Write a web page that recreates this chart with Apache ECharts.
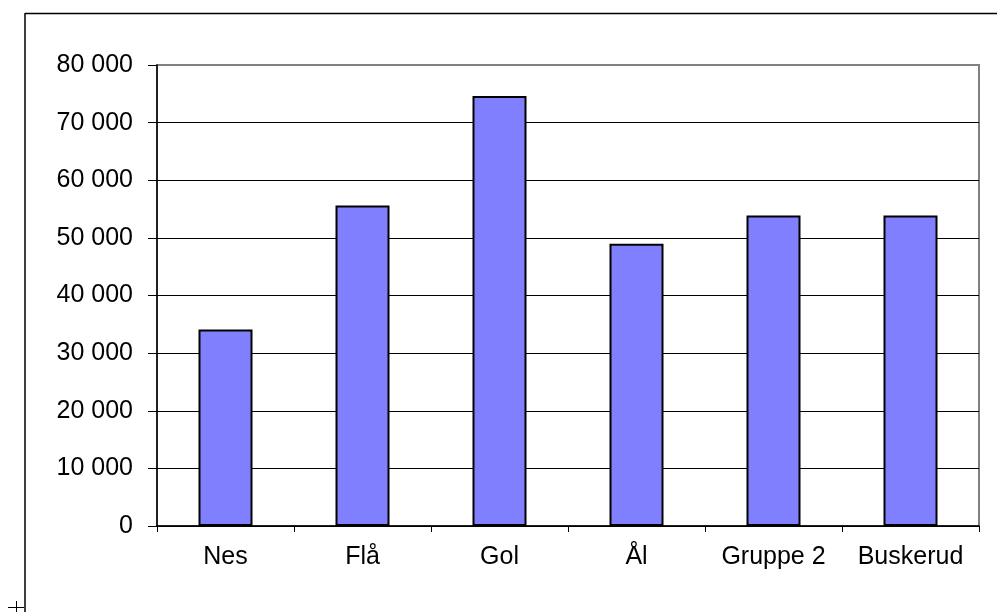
<!DOCTYPE html>
<html>
<head>
<meta charset="utf-8">
<script src="https://cdn.jsdelivr.net/npm/echarts@6/dist/echarts.min.js"></script>
<style>
html,body{margin:0;padding:0;background:#fff;}
#chart{width:997px;height:612px;}
</style>
</head>
<body>
<div id="chart"></div>
<script>
const categories = ['Nes', 'Flå', 'Gol', 'Ål', 'Gruppe 2', 'Buskerud'];
const values = [34100, 55600, 74600, 49000, 53900, 53900];
const yTicks = [0, 10000, 20000, 30000, 40000, 50000, 60000, 70000, 80000];

const fmt = v => {
  const s = String(Math.round(v));
  return s.replace(/\B(?=(\d{3})+(?!\d))/g, ' ');
};

const chart = echarts.init(document.getElementById('chart'), null, {renderer: 'canvas'});
const FONT = '"Liberation Sans", Arial, sans-serif';
chart.setOption({
  backgroundColor: '#ffffff',
  animation: false,
  grid: {
    left: 157, right: 18, top: 65, bottom: 86,
    show: true, borderColor: '#808080', borderWidth: 2, backgroundColor: 'transparent'
  },
  xAxis: {
    type: 'category',
    data: categories,
    boundaryGap: true,
    axisLine: {show: true, lineStyle: {color: '#000', width: 1.5}},
    axisTick: {show: true, interval: 0, alignWithLabel: false, length: 6, lineStyle: {color: '#000', width: 1}},
    axisLabel: {show: true, interval: 0, hideOverlap: false, color: '#000', fontSize: 25, fontFamily: FONT, margin: 19}
  },
  yAxis: {
    type: 'value',
    min: yTicks[0],
    max: yTicks[yTicks.length - 1],
    interval: yTicks[1] - yTicks[0],
    axisLine: {show: true, lineStyle: {color: '#000', width: 1.5}},
    axisTick: {show: true, length: 9, lineStyle: {color: '#000', width: 1}},
    axisLabel: {color: '#000', fontSize: 25, fontFamily: FONT, margin: 24, formatter: fmt},
    splitLine: {show: true, lineStyle: {color: yTicks.map((t, i) => i === yTicks.length - 1 ? '#808080' : '#000'), width: 1}}
  },
  series: [{
    type: 'bar',
    data: values,
    barWidth: 54,
    itemStyle: {color: '#8080FF', borderColor: '#000', borderWidth: 2}
  }],
  graphic: [
    {type: 'line', shape: {x1: 25, y1: 13.5, x2: 997, y2: 13.5}, style: {stroke: '#000', lineWidth: 1.5}},
    {type: 'line', shape: {x1: 25, y1: 13, x2: 25, y2: 612}, style: {stroke: '#000', lineWidth: 1.5}},
    {type: 'line', shape: {x1: 8, y1: 607.5, x2: 24, y2: 607.5}, style: {stroke: '#000', lineWidth: 1}},
    {type: 'line', shape: {x1: 16.5, y1: 601, x2: 16.5, y2: 612}, style: {stroke: '#000', lineWidth: 1}}
  ]
});
</script>
</body>
</html>
